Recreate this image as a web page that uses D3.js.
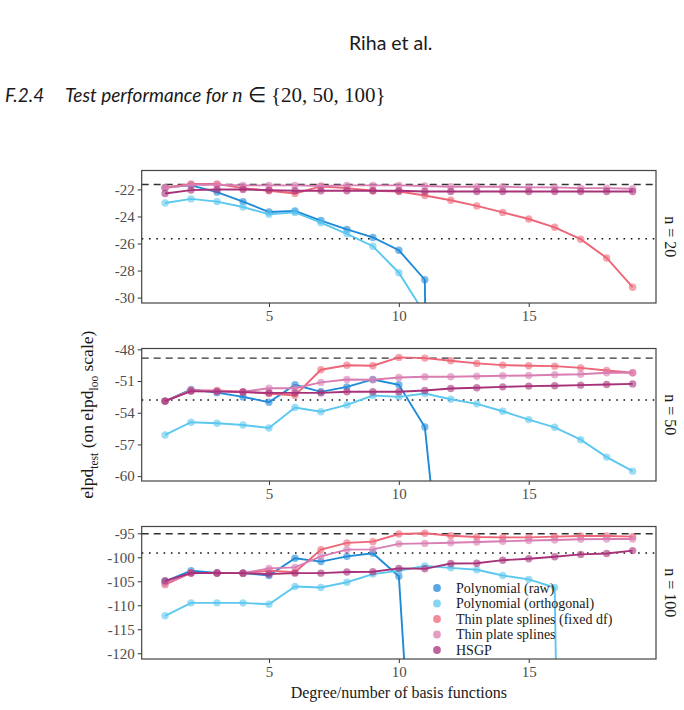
<!DOCTYPE html>
<meta charset="utf-8">
<style>
body { margin: 0; background: #fff; }
.tick text { font-family: "Liberation Serif", "DejaVu Serif", serif; font-size: 15px; fill: #4d4d4d; }
.tick line { stroke: #333; }
.hdr { font-family: Lato, "Open Sans", sans-serif; fill: #1a1a1a; }
.serif { font-family: "Liberation Serif", "DejaVu Serif", serif; fill: #1a1a1a; }
</style>
<body>
<script src="https://cdn.jsdelivr.net/npm/d3@7"></script>
<script>
// x = degree / number of basis functions
const degrees = [1,2,3,4,5,6,7,8,9,10,11,12,13,14,15,16,17,18,19];

// n = 20
const raw20   = [-21.85,-21.7,-22.2,-22.9,-23.67,-23.6,-24.3,-24.96,-25.55,-26.5,-28.68,-200,null,null,null,null,null,null,null];
const orth20  = [-23.0,-22.7,-22.9,-23.3,-23.84,-23.7,-24.46,-25.28,-26.2,-28.16,-31.2,null,null,null,null,null,null,null,null];
const tpsdf20 = [-21.85,-21.6,-21.6,-21.9,-22.1,-22.3,-21.78,-21.9,-22.1,-22.15,-22.45,-22.8,-23.22,-23.7,-24.19,-24.8,-25.68,-27.07,-29.23];
const tps20   = [-21.9,-21.65,-21.65,-21.7,-21.7,-21.7,-21.75,-21.7,-21.7,-21.7,-21.75,-21.8,-21.8,-21.8,-21.85,-21.85,-21.9,-21.9,-21.95];
const hsgp20  = [-22.3,-22.05,-22.0,-22.0,-22.05,-22.1,-22.1,-22.1,-22.1,-22.1,-22.15,-22.15,-22.15,-22.15,-22.15,-22.15,-22.15,-22.15,-22.15];

// n = 50
const raw50   = [-52.9,-51.8,-52.1,-52.5,-53.0,-51.35,-52.02,-51.55,-50.85,-51.35,-55.35,-79,null,null,null,null,null,null,null];
const orth50  = [-56.1,-54.9,-55.0,-55.16,-55.44,-53.5,-53.9,-53.26,-52.37,-52.5,-52.18,-52.72,-53.16,-53.86,-54.65,-55.38,-56.55,-58.2,-59.53];
const tpsdf50 = [-52.9,-51.9,-51.9,-52.02,-52.18,-52.37,-49.93,-49.51,-49.55,-48.76,-48.83,-49.08,-49.33,-49.49,-49.55,-49.59,-49.75,-50.0,-50.22];
const tps50   = [-52.9,-51.9,-51.95,-52.0,-51.68,-51.68,-51.13,-50.86,-50.88,-50.66,-50.6,-50.6,-50.54,-50.5,-50.47,-50.4,-50.35,-50.22,-50.22];
const hsgp50  = [-52.9,-51.96,-52.0,-52.05,-52.12,-52.12,-52.12,-52.02,-52.02,-52.02,-51.9,-51.7,-51.64,-51.55,-51.48,-51.45,-51.39,-51.33,-51.27];

// n = 100
const raw100   = [-105.0,-102.8,-103.27,-103.3,-103.8,-100.2,-100.9,-99.8,-99.17,-103.96,-189,null,null,null,null,null,null,null,null];
const orth100  = [-112.2,-109.5,-109.5,-109.5,-109.8,-106.1,-106.3,-105.2,-103.5,-102.8,-101.8,-102.2,-102.6,-103.8,-104.6,-106.3,-450,null,null];
const tpsdf100 = [-105.7,-103.27,-103.27,-103.3,-102.8,-103.1,-98.4,-97.0,-96.74,-95.14,-95.0,-95.5,-95.77,-95.84,-95.84,-95.7,-95.56,-95.56,-95.7];
const tps100   = [-105.4,-103.27,-103.27,-103.3,-102.3,-102.1,-99.8,-98.4,-98.35,-97.2,-97.1,-96.96,-96.8,-96.67,-96.5,-96.4,-96.25,-96.2,-96.2];
const hsgp100  = [-104.9,-103.27,-103.27,-103.3,-103.5,-103.3,-103.3,-103.06,-103.0,-102.3,-102.4,-101.3,-101.25,-100.6,-100.3,-99.9,-99.4,-99.2,-98.6];

// reference lines (dashed = best, dotted = threshold)
const refDashed = [-21.63, -48.83, -95.1];
const refDotted = [-25.65, -52.8, -99.1];

const methods = ["Polynomial (raw)", "Polynomial (orthogonal)", "Thin plate splines (fixed df)", "Thin plate splines", "HSGP"];
const colors  = ["#1f8ad8", "#5cc8ef", "#ee6577", "#d97db2", "#a8327a"];
const panelLabels = ["n = 20", "n = 50", "n = 100"];
const yDomains = [[-30.4, -20.6], [-60.46, -47.92], [-121.2, -93.58]];
const yTicks = [[-30,-28,-26,-24,-22], [-60,-57,-54,-51,-48], [-120,-115,-110,-105,-100,-95]];
const xTicks = [5, 10, 15];

const series = [
  [raw20, orth20, tpsdf20, tps20, hsgp20],
  [raw50, orth50, tpsdf50, tps50, hsgp50],
  [raw100, orth100, tpsdf100, tps100, hsgp100]
];

const W = 684, H = 710;
const left = 141.7, right = 656;
const tops = [170.5, 348.5, 526.5], ph = 132.5;

const svg = d3.select("body").append("svg")
  .attr("width", W).attr("height", H);

// page header
svg.append("text").attr("class", "hdr")
  .attr("x", 349).attr("y", 50).style("font-size", "19.5px")
  .text("Riha et al.");
const ttl = svg.append("text").attr("class", "hdr")
  .attr("x", 5).attr("y", 102).style("font-size", "19px").style("font-style", "italic");
ttl.append("tspan").text("F.2.4");
ttl.append("tspan").attr("x", 65).text("Test performance for ");
ttl.append("tspan").style("font-family", "Liberation Serif, serif").style("font-size", "21px").text("n");
ttl.append("tspan").style("font-family", "Liberation Serif, serif").style("font-style", "normal").style("font-size", "21px").text(" \u2208 {20, 50, 100}");

const x = d3.scaleLinear().domain([0.1, 19.9]).range([left, right]);

series.forEach(function (panel, p) {
  const top = tops[p];
  const y = d3.scaleLinear().domain(yDomains[p]).range([top + ph, top]);
  const g = svg.append("g");

  g.append("clipPath").attr("id", "clip" + p)
    .append("rect").attr("x", left).attr("y", top).attr("width", right - left).attr("height", ph);

  const plot = g.append("g").attr("clip-path", "url(#clip" + p + ")");

  plot.append("line")
    .attr("x1", left).attr("x2", right)
    .attr("y1", y(refDashed[p])).attr("y2", y(refDashed[p]))
    .attr("stroke", "#333").attr("stroke-width", 1.4).attr("stroke-dasharray", "7,5");
  plot.append("line")
    .attr("x1", left).attr("x2", right)
    .attr("y1", y(refDotted[p])).attr("y2", y(refDotted[p]))
    .attr("stroke", "#111").attr("stroke-width", 1.6).attr("stroke-dasharray", "1.6,5.7");

  const line = d3.line()
    .defined(function (d) { return d[1] != null; })
    .x(function (d) { return x(d[0]); })
    .y(function (d) { return y(d[1]); });

  panel.forEach(function (vals, m) {
    const pts = degrees.map(function (d, i) { return [d, vals[i]]; });
    plot.append("path")
      .datum(pts)
      .attr("fill", "none")
      .attr("stroke", colors[m])
      .attr("stroke-width", 1.9)
      .attr("d", line);
    plot.selectAll(".pt" + m)
      .data(pts.filter(function (d) { return d[1] != null; }))
      .enter().append("circle")
      .attr("cx", function (d) { return x(d[0]); })
      .attr("cy", function (d) { return y(d[1]); })
      .attr("r", 3.7)
      .attr("fill", colors[m])
      .attr("fill-opacity", 0.6);
  });

  // axes (plain hyphen for negatives, as in the original)
  const ya = g.append("g").attr("transform", "translate(" + left + ",0)")
    .call(d3.axisLeft(y).tickValues(yTicks[p]).tickSize(4).tickPadding(3)
      .tickFormat(function (d) { return String(d); }));
  ya.select(".domain").remove();
  const xa = g.append("g").attr("transform", "translate(0," + (top + ph) + ")")
    .call(d3.axisBottom(x).tickValues(xTicks).tickSize(4).tickPadding(3));
  xa.select(".domain").remove();

  g.append("rect")
    .attr("x", left).attr("y", top).attr("width", right - left).attr("height", ph)
    .attr("fill", "none").attr("stroke", "#444").attr("stroke-width", 1.2);

  // facet strip label
  svg.append("text").attr("class", "serif")
    .attr("transform", "translate(665," + (top + ph / 2) + ") rotate(90)")
    .attr("text-anchor", "middle")
    .style("font-size", "16px")
    .text(panelLabels[p]);
});

// axis titles
svg.append("text").attr("class", "serif")
  .attr("x", (left + right) / 2).attr("y", 698)
  .attr("text-anchor", "middle").style("font-size", "16px")
  .text("Degree/number of basis functions");

const yl = svg.append("text").attr("class", "serif")
  .attr("transform", "translate(93," + (tops[1] + ph / 2) + ") rotate(-90)")
  .attr("text-anchor", "middle").style("font-size", "17.5px");
yl.append("tspan").text("elpd");
yl.append("tspan").attr("dy", 4.5).style("font-size", "11.5px").text("test");
yl.append("tspan").attr("dy", -4.5).text(" (on elpd");
yl.append("tspan").attr("dy", 4.5).style("font-size", "11.5px").text("loo");
yl.append("tspan").attr("dy", -4.5).text(" scale)");

// legend inside the bottom panel
const legX = 437, legY = 588, legStep = 15.5;
const leg = svg.append("g");
methods.forEach(function (name, i) {
  leg.append("circle")
    .attr("cx", legX).attr("cy", legY + i * legStep)
    .attr("r", 3.9).attr("fill", colors[i]).attr("fill-opacity", 0.75);
  leg.append("text").attr("class", "serif")
    .attr("x", legX + 19).attr("y", legY + i * legStep + 4.6)
    .style("font-size", "14px")
    .text(name);
});
</script>
</body>
